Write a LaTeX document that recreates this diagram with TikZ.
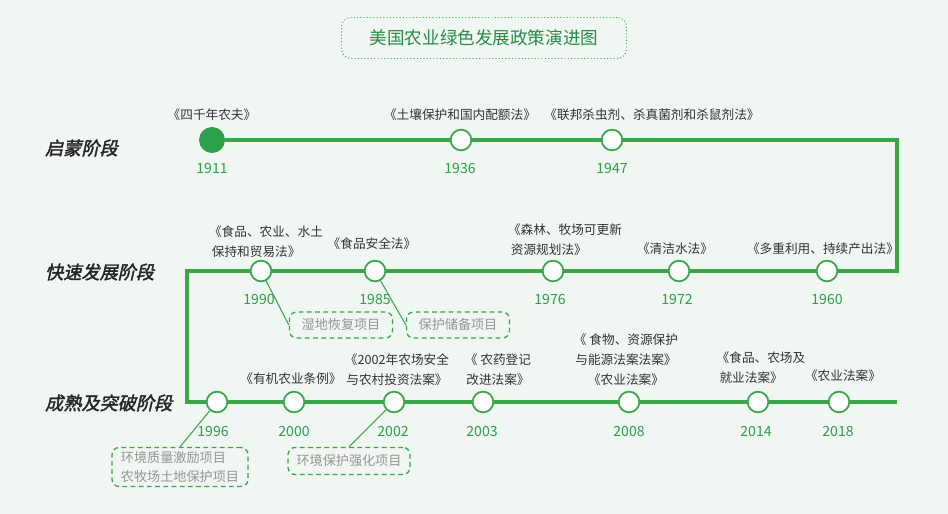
\documentclass[tikz,border=0pt]{standalone}
\usepackage{fontspec}
\setmainfont{Noto Sans CJK SC}
\newfontfamily\stagefont[FakeSlant=0.22,FakeBold=2]{Noto Sans CJK SC}
\usepackage{xcolor}
\definecolor{bgcol}{RGB}{240,246,241}
\definecolor{linegreen}{RGB}{58,166,72}
\definecolor{yeargreen}{RGB}{44,160,74}
\definecolor{titlegreen}{RGB}{40,140,70}
\definecolor{lawgray}{RGB}{51,51,51}
\definecolor{notegray}{RGB}{150,150,150}

\begin{document}
\begin{tikzpicture}[x=0.03cm,y=-0.03cm,
  mainline/.style={linegreen,line width=3.3pt},
  yearpt/.style={circle,draw=linegreen,fill=white,line width=1.5pt,minimum size=0.62cm,inner sep=0pt},
  startpt/.style={circle,fill=yeargreen,minimum size=0.78cm,inner sep=0pt},
  yeartext/.style={text=yeargreen,font=\fontsize{12}{13}\selectfont},
  lawtext/.style={text=lawgray,font=\fontsize{10.8}{17}\selectfont,inner sep=0pt},
  stagetext/.style={anchor=west,text=black!85,font=\stagefont\fontsize{15.5}{18}\selectfont},
  notebox/.style={draw=linegreen,dashed,dash pattern=on 4pt off 3pt,line width=1.1pt,rounded corners=6pt,
    text=notegray,font=\fontsize{11.2}{16}\selectfont,align=left,inner sep=0pt},
  notelink/.style={linegreen,line width=0.9pt}]
\fill[bgcol] (0,0) rectangle (948,514);
\useasboundingbox (0,0) rectangle (948,514);

\node[draw=linegreen,dotted,line width=0.8pt,rounded corners=8pt,minimum width=8.55cm,minimum height=1.23cm,
  text=titlegreen,font=\fontsize{15}{18}\selectfont] (title) at (484,38) {美国农业绿色发展政策演进图};

\node[stagetext] (s1) at (41,148) {启蒙阶段};
\node[stagetext] (s2) at (41,272) {快速发展阶段};
\node[stagetext] (s3) at (41,403) {成熟及突破阶段};

\coordinate (c1) at (897,140);
\coordinate (c2) at (897,271);
\coordinate (c3) at (187,271);
\coordinate (c4) at (187,402);
\coordinate (c5) at (897,402);

\node[startpt] (n1911) at (212,140) {};
\node[yearpt] (n1936) at (461,140) {};
\node[yearpt] (n1947) at (612,140) {};
\node[yearpt] (n1960) at (827,271) {};
\node[yearpt] (n1972) at (679,271) {};
\node[yearpt] (n1976) at (553,271) {};
\node[yearpt] (n1985) at (375,271) {};
\node[yearpt] (n1990) at (261,271) {};
\node[yearpt] (n1996) at (217,402) {};
\node[yearpt] (n2000) at (294,402) {};
\node[yearpt] (n2002) at (394,402) {};
\node[yearpt] (n2003) at (483,402) {};
\node[yearpt] (n2008) at (629,402) {};
\node[yearpt] (n2014) at (758,402) {};
\node[yearpt] (n2018) at (839,402) {};

\draw[mainline] (n1911) -- (n1936) -- (n1947) -- (c1) -- (c2) -- (n1960) -- (n1972) -- (n1976) -- (n1985) -- (n1990) -- (c3) -- (c4) -- (n1996) -- (n2000) -- (n2002) -- (n2003) -- (n2008) -- (n2014) -- (n2018) -- (c5);

\node[yeartext] (y1911) at (212,168) {1911};
\node[yeartext] (y1936) at (460,168) {1936};
\node[yeartext] (y1947) at (612,168) {1947};
\node[yeartext] (y1990) at (259,299) {1990};
\node[yeartext] (y1985) at (375,299) {1985};
\node[yeartext] (y1976) at (550,299) {1976};
\node[yeartext] (y1972) at (677,299) {1972};
\node[yeartext] (y1960) at (827,299) {1960};
\node[yeartext] (y1996) at (213,431) {1996};
\node[yeartext] (y2000) at (294,431) {2000};
\node[yeartext] (y2002) at (393,431) {2002};
\node[yeartext] (y2003) at (482,431) {2003};
\node[yeartext] (y2008) at (629,431) {2008};
\node[yeartext] (y2014) at (756,431) {2014};
\node[yeartext] (y2018) at (838,431) {2018};

\node[lawtext] (l1911) at (212,115) {《四千年农夫》};
\node[lawtext] (l1936) at (460,115) {《土壤保护和国内配额法》};
\node[lawtext] (l1947) at (652,115) {《联邦杀虫剂、杀真菌剂和杀鼠剂法》};
\node[lawtext,align=left] (l1990) at (266,242) {《食品、农业、水土\\\ 保持和贸易法》};
\node[lawtext] (l1985) at (372,244) {《食品安全法》};
\node[lawtext,align=left] (l1976) at (565,240) {《森林、牧场可更新\\\ 资源规划法》};
\node[lawtext] (l1972) at (675,249) {《清洁水法》};
\node[lawtext] (l1960) at (823,249) {《多重利用、持续产出法》};
\node[lawtext] (l2000) at (291,379) {《有机农业条例》};
\node[lawtext,align=center] (l2002) at (397,370) {《2002年农场安全\\与农村投资法案》};
\node[lawtext,align=center] (l2003) at (498,370) {《 农药登记\\改进法案》};
\node[lawtext,align=center] (l2008) at (626,360) {《 食物、资源保护\\与能源法案法案》\\《农业法案》};
\node[lawtext,align=left] (l2014) at (761,368) {《食品、农场及\\\ 就业法案》};
\node[lawtext] (l2018) at (843,376) {《农业法案》};

\node[notebox,minimum width=3.09cm,minimum height=0.78cm] (b1990) at (341,325) {湿地恢复项目};
\node[notebox,minimum width=3.09cm,minimum height=0.78cm] (b1985) at (458,325) {保护储备项目};
\node[notebox,minimum width=4.08cm,minimum height=1.17cm] (b1996) at (180,467) {环境质量激励项目\\农牧场土地保护项目};
\node[notebox,minimum width=3.66cm,minimum height=0.81cm] (b2002) at (349,461) {环境保护强化项目};

\draw[notelink] (n1990) -- (b1990.west);
\draw[notelink] (n1985) -- (b1985.west);
\draw[notelink] (n1996) -- (b1996.north);
\draw[notelink] (n2002) -- (b2002.north);
\end{tikzpicture}
\end{document}
